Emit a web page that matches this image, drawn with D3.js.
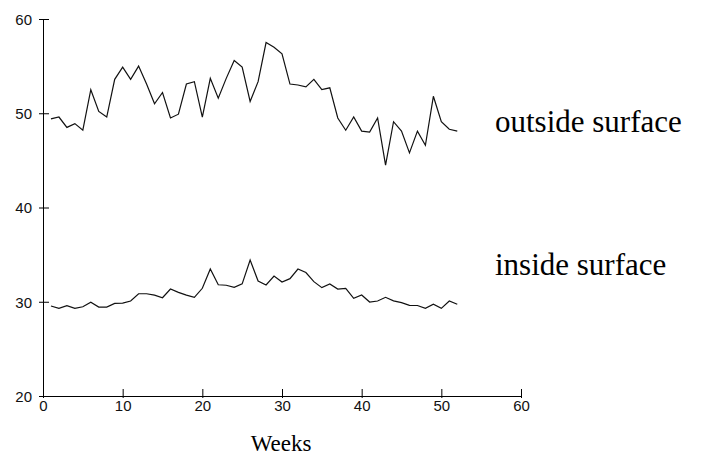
<!DOCTYPE html>
<html>
<head>
<meta charset="utf-8">
<script src="https://cdn.jsdelivr.net/npm/d3@7"></script>
<style>
  html, body { margin: 0; padding: 0; background: #fff; }
  svg { display: block; }
  .tick-label { font-family: "Liberation Sans Narrow", "Arial Narrow", "Liberation Sans", sans-serif; font-size: 15px; fill: #111; }
  .serif { font-family: "Liberation Serif", "Times New Roman", serif; fill: #000; }
</style>
</head>
<body>
<svg id="chart" width="707" height="457"></svg>
<script>
// Weekly surface temperatures
const weeks = [1,2,3,4,5,6,7,8,9,10,11,12,13,14,15,16,17,18,19,20,21,22,23,24,25,26,
               27,28,29,30,31,32,33,34,35,36,37,38,39,40,41,42,43,44,45,46,47,48,49,50,51,52];

const outsideSurface = [49.4,49.6,48.5,48.9,48.2,52.5,50.2,49.6,53.6,54.9,53.6,55.0,53.1,51.0,52.2,49.5,
                        49.9,53.1,53.35,49.6,53.7,51.6,53.7,55.6,54.9,51.25,53.35,57.5,57.0,56.3,53.1,53.0,
                        52.8,53.6,52.5,52.7,49.5,48.2,49.6,48.1,48.0,49.5,44.5,49.1,48.1,45.8,48.1,46.6,
                        51.8,49.1,48.3,48.1];

const insideSurface = [29.55,29.3,29.58,29.3,29.47,29.94,29.44,29.44,29.83,29.86,30.08,30.85,30.85,30.7,30.43,31.35,
                       31.0,30.7,30.47,31.43,33.47,31.8,31.75,31.53,31.9,34.43,32.2,31.78,32.73,32.1,32.45,33.47,
                       33.1,32.13,31.5,31.88,31.35,31.42,30.37,30.72,29.97,30.08,30.47,30.1,29.9,29.62,29.6,29.3,
                       29.73,29.3,30.08,29.73];

const xTicks = [0,10,20,30,40,50,60];
const yTicks = [20,30,40,50,60];

const seriesLabels = ["outside surface", "inside surface"];
const xTitle = "Weeks";

const svg = d3.select("#chart");

const x = d3.scaleLinear().domain([0, 60]).range([43, 521]);
const y = d3.scaleLinear().domain([20, 60]).range([396, 19]);

// y axis: ticks cross the axis line, longer on the inside
const yAxis = svg.append("g")
  .attr("transform", `translate(${x(0)},0)`)
  .call(d3.axisLeft(y).tickValues(yTicks).tickFormat(d3.format("d")).tickSizeOuter(0));
yAxis.select(".domain").attr("stroke", "#000").attr("d", `M0.5,${y(60)}V${y(20)}`);
yAxis.selectAll(".tick line").attr("x1", -4).attr("x2", 6).attr("stroke", "#000");
yAxis.selectAll(".tick text")
  .attr("class", "tick-label")
  .attr("x", -11).attr("dy", "0.36em");
yAxis.attr("font-family", null).attr("font-size", null);

// x axis: ticks rise above the axis line
const xAxis = svg.append("g")
  .attr("transform", `translate(0,${y(20)})`)
  .call(d3.axisBottom(x).tickValues(xTicks).tickFormat(d3.format("d")).tickSizeOuter(0));
xAxis.select(".domain").attr("stroke", "#000").attr("d", `M${x(0)},0.5H${x(60) + 1}`);
xAxis.selectAll(".tick line").attr("y1", -7).attr("y2", 2).attr("stroke", "#000");
xAxis.selectAll(".tick text")
  .attr("class", "tick-label")
  .attr("y", 4).attr("dy", "0.71em");
xAxis.attr("font-family", null).attr("font-size", null);

// data lines
const line = d3.line()
  .x((d, i) => x(weeks[i]))
  .y(d => y(d));

[outsideSurface, insideSurface].forEach(series => {
  svg.append("path")
    .datum(series)
    .attr("fill", "none")
    .attr("stroke", "#111")
    .attr("stroke-width", 1.2)
    .attr("stroke-linejoin", "miter")
    .attr("d", line);
});

// series labels
svg.append("text").attr("class", "serif")
  .attr("x", 495).attr("y", 132)
  .attr("font-size", 31)
  .text(seriesLabels[0]);

svg.append("text").attr("class", "serif")
  .attr("x", 495).attr("y", 275)
  .attr("font-size", 31)
  .text(seriesLabels[1]);

// axis title
svg.append("text").attr("class", "serif")
  .attr("x", 281).attr("y", 451)
  .attr("text-anchor", "middle")
  .attr("font-size", 23)
  .text(xTitle);
</script>
</body>
</html>
